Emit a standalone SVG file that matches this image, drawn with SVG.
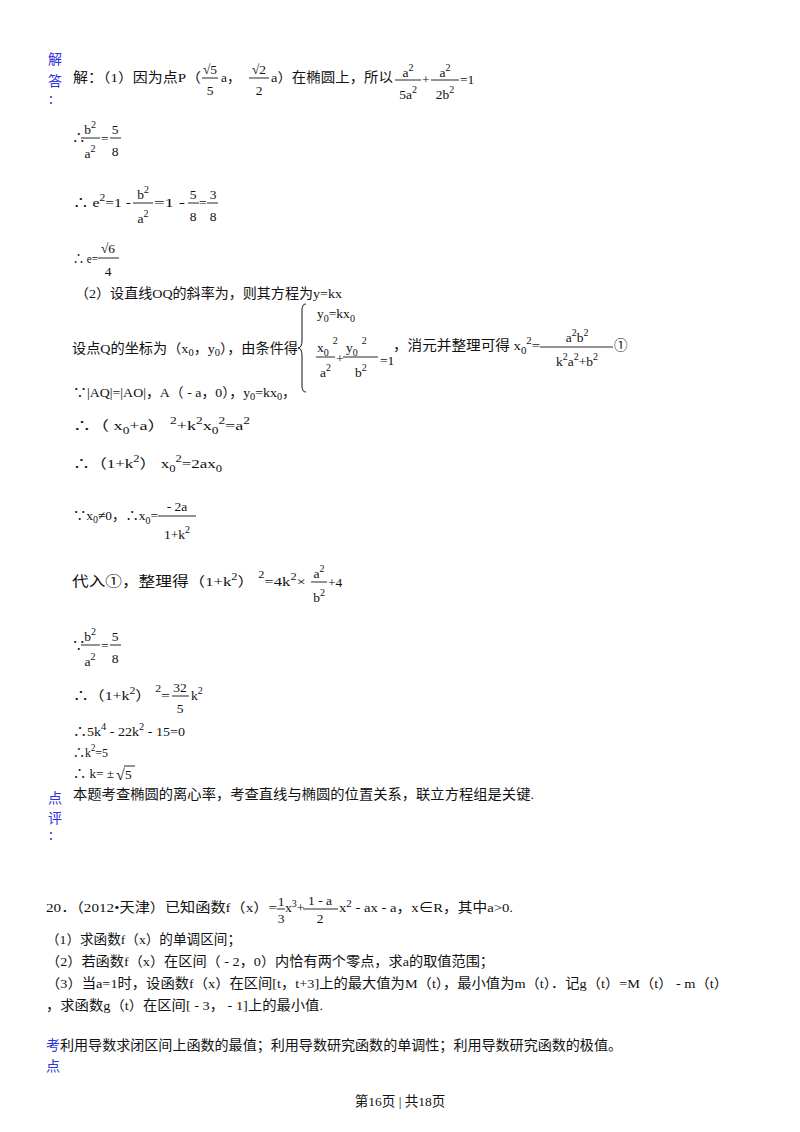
<svg xmlns="http://www.w3.org/2000/svg" width="800" height="1132" viewBox="0 0 800 1132">
<style>
text{font-family:"Liberation Serif","Noto Sans CJK SC",serif;font-size:13.5px;fill:#111}
.b{fill:#3030e0;font-family:"Noto Sans CJK SC",sans-serif;font-size:14px}
.s{font-size:10px}
.m{text-anchor:middle}
line{stroke:#111;stroke-width:0.9}
</style>
<rect width="800" height="1132" fill="#fff"/>
<g id="answer">
<text class="b" x="48" y="64">解</text><text class="b" x="48" y="86">答</text><text class="b" x="49" y="104">:</text>
<text x="73" y="82" textLength="128" lengthAdjust="spacingAndGlyphs">解：（1）因为点P（</text>
<text class="m" x="210" y="74">√5</text><line x1="202" y1="78" x2="218" y2="78"/><text class="m" x="210" y="95">5</text>
<text x="221" y="82">a，</text>
<text class="m" x="259" y="74">√2</text><line x1="249" y1="78" x2="269" y2="78"/><text class="m" x="259" y="95">2</text>
<text x="271" y="82" textLength="122" lengthAdjust="spacingAndGlyphs">a）在椭圆上，所以</text>
<text class="m" x="408" y="77">a<tspan class="s" dy="-6">2</tspan></text><line x1="395" y1="80" x2="421" y2="80"/><text class="m" x="408" y="99">5a<tspan class="s" dy="-6">2</tspan></text>
<text x="422" y="84">+</text>
<text class="m" x="445" y="77">a<tspan class="s" dy="-6">2</tspan></text><line x1="431" y1="80" x2="459" y2="80"/><text class="m" x="445" y="99">2b<tspan class="s" dy="-6">2</tspan></text>
<text x="460" y="84">=1</text>

<text x="72" y="142">∴</text>
<text class="m" x="90" y="134">b<tspan class="s" dy="-6">2</tspan></text><line x1="81" y1="138" x2="100" y2="138"/><text class="m" x="90" y="158">a<tspan class="s" dy="-6">2</tspan></text>
<text x="101" y="143">=</text>
<text class="m" x="115" y="134">5</text><line x1="110" y1="138" x2="121" y2="138"/><text class="m" x="115" y="156">8</text>

<text x="73" y="207" textLength="58" lengthAdjust="spacingAndGlyphs">∴ e<tspan class="s" dy="-6">2</tspan><tspan dy="6">=1 -</tspan></text>
<text class="m" x="143" y="199">b<tspan class="s" dy="-6">2</tspan></text><line x1="133" y1="203" x2="153" y2="203"/><text class="m" x="143" y="223">a<tspan class="s" dy="-6">2</tspan></text>
<text x="154" y="207" textLength="31" lengthAdjust="spacingAndGlyphs">=1 -</text>
<text class="m" x="193" y="199">5</text><line x1="188" y1="203" x2="199" y2="203"/><text class="m" x="193" y="221">8</text>
<text x="199" y="207">=</text>
<text class="m" x="213" y="199">3</text><line x1="207" y1="203" x2="218" y2="203"/><text class="m" x="213" y="221">8</text>

<text x="73" y="263" textLength="25" lengthAdjust="spacingAndGlyphs">∴ e=</text>
<text class="m" x="108" y="253">√6</text><line x1="98" y1="258" x2="119" y2="258"/><text class="m" x="108" y="276">4</text>

<text x="75" y="298" textLength="267" lengthAdjust="spacingAndGlyphs">（2）设直线OQ的斜率为，则其方程为y=kx</text>

<text x="72" y="353" textLength="226" lengthAdjust="spacingAndGlyphs">设点Q的坐标为（x<tspan class="s" dy="3">0</tspan><tspan dy="-3">，y</tspan><tspan class="s" dy="3">0</tspan><tspan dy="-3">），由条件得</tspan></text>
<path d="M306,304 q-4,0 -4,6 v30 q0,8 -4,8 q4,0 4,8 v30 q0,6 4,6" fill="none" stroke="#111" stroke-width="1"/>
<text x="317" y="318">y<tspan class="s" dy="4">0</tspan><tspan dy="-4">=kx</tspan><tspan class="s" dy="4">0</tspan></text>
<text x="317" y="352">x<tspan class="s" dy="4">0</tspan><tspan class="s" dx="4" dy="-12">2</tspan></text><line x1="316" y1="357" x2="335" y2="357"/><text x="320" y="377">a<tspan class="s" dy="-6">2</tspan></text>
<text x="336" y="363">+</text>
<text x="346" y="352">y<tspan class="s" dy="4">0</tspan><tspan class="s" dx="4" dy="-12">2</tspan></text><line x1="343" y1="357" x2="378" y2="357"/><text x="355" y="377">b<tspan class="s" dy="-6">2</tspan></text>
<text x="380" y="365">=1</text>
<text x="393" y="350" textLength="147" lengthAdjust="spacingAndGlyphs">，消元并整理可得 x<tspan class="s" dy="4">0</tspan><tspan class="s" dy="-10">2</tspan><tspan dy="6">=</tspan></text>
<text class="m" x="577" y="342">a<tspan class="s" dy="-6">2</tspan><tspan dy="6">b</tspan><tspan class="s" dy="-6">2</tspan></text><line x1="540" y1="347" x2="613" y2="347"/><text class="m" x="577" y="366">k<tspan class="s" dy="-6">2</tspan><tspan dy="6">a</tspan><tspan class="s" dy="-6">2</tspan><tspan dy="6">+b</tspan><tspan class="s" dy="-6">2</tspan></text>
<text x="614" y="350">①</text>

<text x="73" y="397" textLength="223" lengthAdjust="spacingAndGlyphs">∵|AQ|=|AO|，A（ - a，0），y<tspan class="s" dy="3">0</tspan><tspan dy="-3">=kx</tspan><tspan class="s" dy="3">0</tspan><tspan dy="-3">，</tspan></text>
<text x="73" y="430" textLength="177" lengthAdjust="spacingAndGlyphs">∴（ x<tspan class="s" dy="4">0</tspan><tspan dy="-4">+a） </tspan><tspan class="s" dy="-6">2</tspan><tspan dy="6">+k</tspan><tspan class="s" dy="-6">2</tspan><tspan dy="6">x</tspan><tspan class="s" dy="4">0</tspan><tspan class="s" dy="-10">2</tspan><tspan dy="6">=a</tspan><tspan class="s" dy="-6">2</tspan></text>
<text x="73" y="468" textLength="149" lengthAdjust="spacingAndGlyphs">∴（1+k<tspan class="s" dy="-6">2</tspan><tspan dy="6">） x</tspan><tspan class="s" dy="4">0</tspan><tspan class="s" dy="-10">2</tspan><tspan dy="6">=2ax</tspan><tspan class="s" dy="4">0</tspan></text>

<text x="73" y="520" textLength="85" lengthAdjust="spacingAndGlyphs">∵x<tspan class="s" dy="3">0</tspan><tspan dy="-3">≠0，∴x</tspan><tspan class="s" dy="4">0</tspan><tspan dy="-4">=</tspan></text>
<text class="m" x="177" y="511">- 2a</text><line x1="158" y1="516" x2="196" y2="516"/><text class="m" x="177" y="539">1+k<tspan class="s" dy="-6">2</tspan></text>

<text x="72" y="586" textLength="234" lengthAdjust="spacingAndGlyphs">代入①，整理得（1+k<tspan class="s" dy="-6">2</tspan><tspan dy="6">） </tspan><tspan class="s" dy="-8">2</tspan><tspan dy="8">=4k</tspan><tspan class="s" dy="-6">2</tspan><tspan dy="6">×</tspan></text>
<text class="m" x="319" y="578">a<tspan class="s" dy="-6">2</tspan></text><line x1="311" y1="582" x2="327" y2="582"/><text class="m" x="319" y="602">b<tspan class="s" dy="-6">2</tspan></text>
<text x="328" y="587">+4</text>

<text x="72" y="650">∵</text>
<text class="m" x="90" y="641">b<tspan class="s" dy="-6">2</tspan></text><line x1="81" y1="645" x2="100" y2="645"/><text class="m" x="90" y="666">a<tspan class="s" dy="-6">2</tspan></text>
<text x="101" y="650">=</text>
<text class="m" x="115" y="641">5</text><line x1="110" y1="645" x2="121" y2="645"/><text class="m" x="115" y="663">8</text>

<text x="73" y="700" textLength="97" lengthAdjust="spacingAndGlyphs">∴（1+k<tspan class="s" dy="-6">2</tspan><tspan dy="6">） </tspan><tspan class="s" dy="-8">2</tspan><tspan dy="8">=</tspan></text>
<text class="m" x="180" y="692">32</text><line x1="172" y1="696" x2="189" y2="696"/><text class="m" x="180" y="713">5</text>
<text x="191" y="700">k<tspan class="s" dy="-6">2</tspan></text>

<text x="73" y="736" textLength="112" lengthAdjust="spacingAndGlyphs">∴5k<tspan class="s" dy="-6">4</tspan><tspan dy="6"> - 22k</tspan><tspan class="s" dy="-6">2</tspan><tspan dy="6"> - 15=0</tspan></text>
<text x="73" y="757" textLength="35" lengthAdjust="spacingAndGlyphs">∴k<tspan class="s" dy="-6">2</tspan><tspan dy="6">=5</tspan></text>
<text x="73" y="778" textLength="41" lengthAdjust="spacingAndGlyphs">∴ k= ±</text>
<text x="116" y="780" style="font-size:16px">√</text>
<text x="125" y="779">5</text>
<line x1="124" y1="766" x2="135" y2="766"/>
</g>
<g id="comment">
<text class="b" x="48" y="803">点</text><text class="b" x="48" y="823">评</text><text class="b" x="49" y="840">:</text>
<text x="73" y="799" textLength="461" lengthAdjust="spacingAndGlyphs">本题考查椭圆的离心率，考查直线与椭圆的位置关系，联立方程组是关键.</text>
</g>
<g id="q20">
<text x="46" y="912" textLength="231" lengthAdjust="spacingAndGlyphs">20．（2012•天津）已知函数f（x）=</text>
<text class="m" x="281" y="906">1</text><line x1="277" y1="909" x2="285" y2="909"/><text class="m" x="281" y="923">3</text>
<text x="285" y="912">x<tspan class="s" dy="-5">3</tspan><tspan dy="5">+</tspan></text>
<text class="m" x="320" y="905">1 - a</text><line x1="303" y1="909" x2="338" y2="909"/><text class="m" x="320" y="923">2</text>
<text x="339" y="912" textLength="174" lengthAdjust="spacingAndGlyphs">x<tspan class="s" dy="-5">2</tspan><tspan dy="5"> - ax - a，x∈R，其中a&gt;0.</tspan></text>
<text x="46" y="944" textLength="195" lengthAdjust="spacingAndGlyphs">（1）求函数f（x）的单调区间；</text>
<text x="46" y="966" textLength="448" lengthAdjust="spacingAndGlyphs">（2）若函数f（x）在区间（ - 2，0）内恰有两个零点，求a的取值范围；</text>
<text x="46" y="988" textLength="682" lengthAdjust="spacingAndGlyphs">（3）当a=1时，设函数f（x）在区间[t，t+3]上的最大值为M（t），最小值为m（t）．记g（t）=M（t） - m（t）</text>
<text x="46" y="1010" textLength="277" lengthAdjust="spacingAndGlyphs">，求函数g（t）在区间[ - 3， - 1]上的最小值.</text>
<text class="b" x="46" y="1050">考</text><text class="b" x="46" y="1071">点</text>
<text x="60" y="1050" textLength="562" lengthAdjust="spacingAndGlyphs">利用导数求闭区间上函数的最值；利用导数研究函数的单调性；利用导数研究函数的极值。</text>
<text class="m" x="400" y="1106">第16页 | 共18页</text>
</g>
</svg>
